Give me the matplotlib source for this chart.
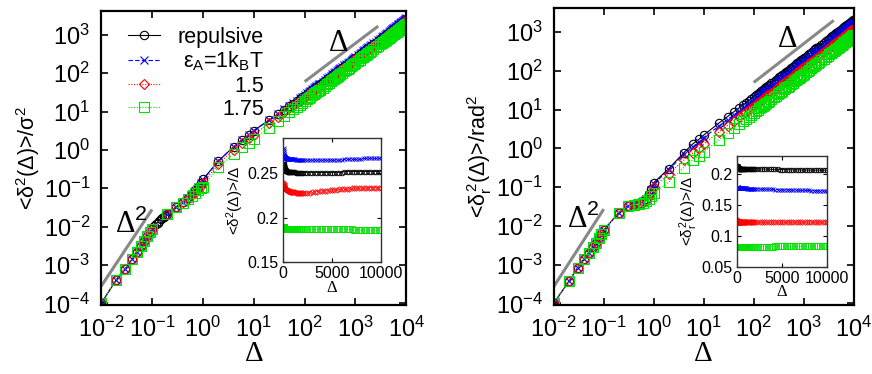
import numpy as np
import matplotlib
matplotlib.use('Agg')
import matplotlib.pyplot as plt
from matplotlib.ticker import NullLocator, FormatStrFormatter

plt.rcParams['font.family'] = ['Liberation Sans', 'DejaVu Sans']
plt.rcParams['mathtext.fontset'] = 'custom'
plt.rcParams['mathtext.rm'] = 'Liberation Sans'
plt.rcParams['mathtext.it'] = 'Liberation Sans'
plt.rcParams['mathtext.sf'] = 'Liberation Sans'
plt.rcParams['mathtext.bf'] = 'Liberation Sans:bold'

# ---------------- data ----------------
labels = ['repulsive', r'$\varepsilon_A$=1k$_B$T', '1.5', '1.75']
colors = ['black', '#0000ff', '#ff0000', '#00e000']

# short lag times (main panels)
t_short = [0.01, 0.02, 0.03, 0.04, 0.05, 0.06, 0.07, 0.08, 0.09, 0.1,
           0.2, 0.3, 0.4, 0.5, 0.6, 0.7, 0.8, 0.9, 1.0, 2, 4, 6, 8]
# long lag times (main panels + insets), in six blocks
t_long = ([10, 20, 30, 40, 50, 60, 70, 80, 90, 100] +
          [110, 120, 130, 140, 150, 160, 170, 180, 190, 200] +
          [225, 250, 275, 300, 325, 350, 375, 400, 425, 450, 475, 500] +
          [550, 600, 650, 700, 750, 800, 850, 900, 950, 1000] +
          [1100, 1200, 1300, 1400, 1500, 1600, 1700, 1800, 1900, 2000] +
          [2250, 2500, 2750, 3000, 3250, 3500, 3750, 4000, 4250, 4500, 4750,
           5000, 5250, 5500, 5750, 6000, 6250, 6500, 6750, 7000, 7250, 7500,
           7750, 8000, 8250, 8500, 8750, 9000, 9250, 9500, 9750, 10000])

# translational MSD, short times (0.01 .. 0.2 shared, then 0.3 .. 8)
msd_early_L = [1.0e-4, 4.2e-4, 8.1e-4, 1.4e-3, 2.2e-3, 3.1e-3, 4.2e-3, 5.6e-3, 7.1e-3, 8.7e-3, 0.022]
msd_rep_L = [0.033, 0.045, 0.055, 0.070, 0.088, 0.110, 0.140, 0.170, 0.51, 1.20, 1.80, 2.40]
msd_e1_L = [0.033, 0.045, 0.055, 0.070, 0.087, 0.110, 0.140, 0.165, 0.50, 1.20, 1.85, 2.50]
msd_e15_L = [0.032, 0.043, 0.052, 0.065, 0.080, 0.095, 0.115, 0.135, 0.42, 1.00, 1.50, 2.00]
msd_e175_L = [0.032, 0.042, 0.052, 0.062, 0.075, 0.088, 0.100, 0.110, 0.35, 0.80, 1.20, 1.55]
# extra points of the repulsive run between 0.1 and 0.2
t_rep_extra_L = [0.11, 0.12, 0.13, 0.14, 0.15, 0.16, 0.17, 0.18, 0.19]
msd_rep_extra_L = [0.0102, 0.0115, 0.0128, 0.0141, 0.0154, 0.0167, 0.0180, 0.0192, 0.0204]

# <delta^2>/Delta at long times (inset, left), same six blocks as t_long
ratio_rep_L = ([0.320, 0.295, 0.285, 0.278, 0.272, 0.268, 0.265, 0.263, 0.261, 0.260] +
               [0.259, 0.258, 0.258, 0.257, 0.257, 0.256, 0.256, 0.255, 0.255, 0.255] +
               [0.254] * 4 + [0.253] * 5 + [0.252] * 3 +
               [0.252] * 10 +
               [0.252] * 2 + [0.251] * 8 +
               [0.251] * 16 + [0.252] * 16)
ratio_e1_L = ([0.320, 0.300, 0.292, 0.287, 0.283, 0.279, 0.276, 0.274, 0.272, 0.271] +
              [0.271, 0.270, 0.270, 0.270, 0.269, 0.269, 0.269, 0.268, 0.268, 0.268] +
              [0.268] * 2 + [0.267] * 5 + [0.266] * 5 +
              [0.266] * 10 +
              [0.266] * 2 + [0.265] * 8 +
              [0.265] * 16 + [0.266] * 8 + [0.267] * 8)
ratio_e15_L = ([0.250, 0.245, 0.243, 0.241, 0.240, 0.239, 0.238, 0.237, 0.236, 0.236] +
               [0.236, 0.235, 0.235, 0.235, 0.234, 0.234, 0.234, 0.234, 0.233, 0.233] +
               [0.233, 0.232, 0.232, 0.232, 0.232, 0.231, 0.231, 0.231, 0.231, 0.231, 0.230, 0.230] +
               [0.230, 0.230, 0.230, 0.230, 0.229, 0.229, 0.229, 0.229, 0.229, 0.229] +
               [0.229, 0.229] + [0.228] * 8 +
               [0.228, 0.228, 0.228, 0.229, 0.229, 0.229, 0.230, 0.230, 0.230, 0.230, 0.231,
                0.231, 0.231, 0.231, 0.232, 0.232, 0.232, 0.232, 0.232, 0.233, 0.233, 0.233,
                0.233, 0.233, 0.233, 0.233, 0.234, 0.234, 0.234, 0.234, 0.234, 0.234])
ratio_e175_L = ([0.190] * 6 + [0.189] * 3 + [0.188] +
                [0.188] * 5 + [0.187] * 5 +
                [0.187] * 12 +
                [0.187] * 10 +
                [0.187] * 10 +
                [0.187] * 20 + [0.186] * 12)

# rotational MSD, short times
msd_early_R = [1.0e-4, 3.7e-4, 8.3e-4, 1.4e-3, 2.0e-3, 2.8e-3, 3.7e-3, 4.8e-3, 6.1e-3, 7.7e-3, 0.022]
msd_rep_R = [0.033, 0.037, 0.040, 0.043, 0.050, 0.065, 0.090, 0.130, 0.30, 0.77, 1.29, 1.70]
msd_e1_R = [0.033, 0.037, 0.040, 0.043, 0.049, 0.062, 0.085, 0.120, 0.28, 0.70, 1.10, 1.45]
msd_e15_R = [0.033, 0.036, 0.039, 0.042, 0.047, 0.057, 0.075, 0.100, 0.22, 0.50, 0.75, 1.00]
msd_e175_R = [0.032, 0.035, 0.037, 0.040, 0.043, 0.049, 0.058, 0.069, 0.135, 0.32, 0.50, 0.65]

# <delta_r^2>/Delta at long times (inset, right)
ratio_rep_R = ([0.220, 0.222, 0.220, 0.218, 0.216, 0.214, 0.213, 0.212, 0.211, 0.210] +
               [0.210, 0.210] + [0.2095] * 8 +
               [0.209] * 12 +
               [0.209] * 10 +
               [0.209] * 5 + [0.2088] * 5 +
               [0.2086, 0.2085, 0.2084, 0.2083, 0.2082, 0.2081, 0.2080, 0.2079, 0.2078,
                0.2077, 0.2076, 0.2075, 0.2074, 0.2073, 0.2072, 0.2071, 0.2070, 0.2070,
                0.2069, 0.2069, 0.2068, 0.2068, 0.2067, 0.2067, 0.2066, 0.2066, 0.2066,
                0.2065, 0.2065, 0.2065, 0.2065, 0.2065])
ratio_e1_R = ([0.190, 0.186, 0.184, 0.182, 0.181, 0.180, 0.179, 0.1785, 0.178, 0.178] +
              [0.178] * 10 +
              [0.1778] * 6 + [0.1775] * 6 +
              [0.1772] * 5 + [0.177] * 5 +
              [0.1768] * 5 + [0.1765] * 5 +
              [0.176] * 4 + [0.1755] * 4 + [0.175] * 4 + [0.1745] * 4 +
              [0.174] * 4 + [0.1737] * 4 + [0.1733] * 4 + [0.173] * 4)
ratio_e15_R = ([0.130, 0.130, 0.128, 0.127, 0.126, 0.125, 0.124, 0.124, 0.123, 0.123] +
               [0.123] * 3 + [0.122] * 7 +
               [0.122] * 12 +
               [0.122] * 10 +
               [0.122] * 10 +
               [0.122] * 32)
ratio_e175_R = ([0.080, 0.083] + [0.0825] * 8 +
                [0.0825] * 10 +
                [0.0825] * 12 +
                [0.0825] * 10 +
                [0.0825] * 10 +
                [0.0825] * 8 + [0.0828] * 8 + [0.0832] * 8 + [0.0836] * 8)

# guide lines (slope 2 and slope 1)
guide2_x = [0.01, 0.1]
guide2_y_L = [2.8e-4, 2.8e-2]
guide2_y_R = [2.7e-4, 2.7e-2]
guide1_x_L = [100, 2800]
guide1_y_L = [60, 1680]
guide1_x_R = [100, 4000]
guide1_y_R = [50, 2000]

# ---------------- styles ----------------
styles = [dict(ls='-', marker='o', ms=6, mfc='none'),
          dict(ls=(0, (4, 2)), marker='x', ms=6),
          dict(ls=(0, (1, 1.5)), marker='D', ms=5, mfc='none'),
          dict(ls=(0, (1, 1.5)), marker='s', ms=7, mfc='none')]

serif = ['Liberation Serif', 'DejaVu Serif']

fig = plt.figure(figsize=(8.72, 3.74), dpi=100)
axL = fig.add_axes([0.116, 0.184, 0.350, 0.787])
axR = fig.add_axes([0.635, 0.184, 0.344, 0.795])
insL = fig.add_axes([0.3245, 0.2995, 0.1124, 0.3316])
insR = fig.add_axes([0.8452, 0.2869, 0.1032, 0.2968])


def series(early, late, ratio, tx=None, mx=None):
    t = list(t_short) + list(t_long)
    m = list(early) + list(late) + list(np.array(t_long) * np.array(ratio))
    if tx is not None:
        t = t + list(tx)
        m = m + list(mx)
    t = np.array(t)
    m = np.array(m)
    order = np.argsort(t)
    return t[order], m[order]


def main_panel(ax, data, g2y, g1x, g1y, ylabel, t2pos, t1pos):
    for (t, m), c, st, lab in zip(data, colors, styles, labels):
        ax.plot(t, m, color=c, lw=0.8, mew=0.8, label=lab, **st)
    ax.plot(guide2_x, g2y, color='#888888', lw=2.2, solid_capstyle='butt')
    ax.plot(g1x, g1y, color='#888888', lw=2.2, solid_capstyle='butt')
    ax.text(t2pos[0], t2pos[1], 'Δ$^2$', family=serif, fontsize=22,
            ha='center', va='center', transform=ax.transAxes)
    ax.text(t1pos[0], t1pos[1], 'Δ', family=serif, fontsize=22,
            ha='center', va='center', transform=ax.transAxes)
    ax.set_xscale('log')
    ax.set_yscale('log')
    ax.set_xlim(1e-2, 1e4)
    ax.set_ylim(9e-5, 4.2e3)
    ax.set_xticks([1e-2, 1e-1, 1e0, 1e1, 1e2, 1e3, 1e4])
    ax.set_yticks([1e-4, 1e-3, 1e-2, 1e-1, 1e0, 1e1, 1e2, 1e3])
    ax.xaxis.set_minor_locator(NullLocator())
    ax.yaxis.set_minor_locator(NullLocator())
    ax.tick_params(direction='in', top=True, right=True, length=5, width=1.2,
                   labelsize=17, pad=8)
    for s in ax.spines.values():
        s.set_linewidth(1.6)
    ax.set_xlabel('Δ', family=serif, fontsize=21, labelpad=0)
    ax.set_ylabel(ylabel, fontsize=15.5, labelpad=1)


def inset_panel(ax, ratios, ylim, yticks, ylabel):
    for r, c, st in zip(ratios, colors, styles):
        s = dict(st)
        s['ms'] = s['ms'] * 0.55
        ax.plot(t_long[5:], r[5:], color=c, lw=0.6, mew=0.6, **s)
    ax.set_xlim(0, 10000)
    ax.set_ylim(*ylim)
    ax.set_xticks([0, 5000, 10000])
    ax.set_yticks(yticks)
    ax.yaxis.set_major_formatter(FormatStrFormatter('%g'))
    ax.tick_params(direction='in', top=True, right=True, length=3, width=0.8,
                   labelsize=11.5, pad=3)
    for s in ax.spines.values():
        s.set_linewidth(1.0)
        s.set_color('#333333')
    ax.set_xlabel('Δ', family=serif, fontsize=12, labelpad=-1)
    ax.set_ylabel(ylabel, fontsize=11, labelpad=1)


dataL = [series(msd_early_L, msd_rep_L, ratio_rep_L, t_rep_extra_L, msd_rep_extra_L),
         series(msd_early_L, msd_e1_L, ratio_e1_L),
         series(msd_early_L, msd_e15_L, ratio_e15_L),
         series(msd_early_L, msd_e175_L, ratio_e175_L)]
dataR = [series(msd_early_R, msd_rep_R, ratio_rep_R),
         series(msd_early_R, msd_e1_R, ratio_e1_R),
         series(msd_early_R, msd_e15_R, ratio_e15_R),
         series(msd_early_R, msd_e175_R, ratio_e175_R)]

main_panel(axL, dataL, guide2_y_L, guide1_x_L, guide1_y_L,
           '<δ$^2$(Δ)>/σ$^2$', (0.1, 0.275), (0.777, 0.89))
main_panel(axR, dataR, guide2_y_R, guide1_x_R, guide1_y_R,
           r'<$\delta_r^2$(Δ)>/rad$^2$', (0.1, 0.29), (0.78, 0.892))

inset_panel(insL, [ratio_rep_L, ratio_e1_L, ratio_e15_L, ratio_e175_L],
            (0.15, 0.29), [0.15, 0.2, 0.25], '<δ$^2$(Δ)>/Δ')
inset_panel(insR, [ratio_rep_R, ratio_e1_R, ratio_e15_R, ratio_e175_R],
            (0.05, 0.23), [0.05, 0.1, 0.15, 0.2], r'<$\delta_r^2$(Δ)>/Δ')

leg = axL.legend(loc='upper left', bbox_to_anchor=(0.046, 0.99), frameon=False,
                 fontsize=15.5, handlelength=1.5, handletextpad=0.8,
                 labelspacing=0.1, borderaxespad=0.2)
# right-align the legend texts, gnuplot style
fig.canvas.draw()
renderer = fig.canvas.get_renderer()
texts = leg.get_texts()
widths = [t.get_window_extent(renderer).width for t in texts]
wmax = max(widths)
for t, w in zip(texts, widths):
    t.set_position((wmax - w, 0))

fig.savefig('out.png', dpi=100)
